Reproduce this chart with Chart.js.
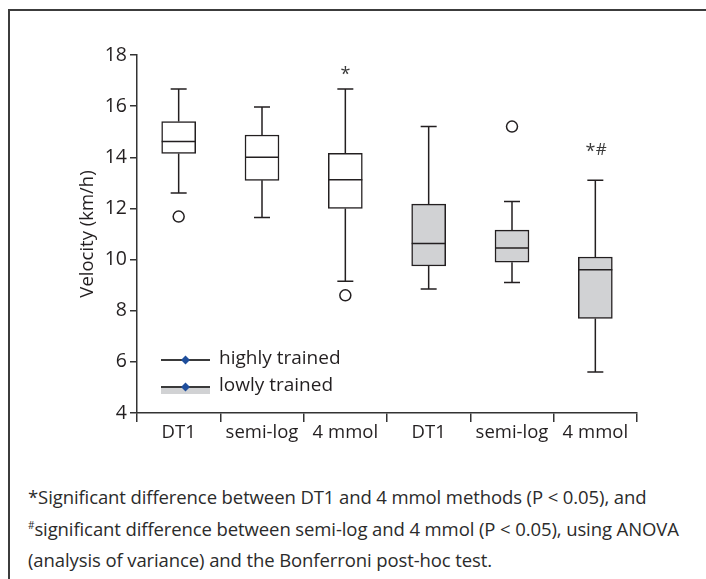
<!DOCTYPE html>
<html>
<head>
<meta charset="utf-8">
<script src="https://cdn.jsdelivr.net/npm/chart.js@4.4.1/dist/chart.umd.min.js"></script>
<style>
  html, body { margin: 0; padding: 0; background: #fff; }
  .frame {
    position: relative; width: 706px; height: 579px; overflow: hidden;
    font-family: "Open Sans", sans-serif; color: #231f20;
  }
  .frame::before {
    content: ""; position: absolute; left: 8px; top: 9px; right: 0; bottom: 0;
    border-top: 2px solid #3c3c3c; border-left: 2px solid #3c3c3c;
  }
  .chart-wrap { position: absolute; left: 0; top: 0; width: 706px; height: 460px; }
  .note {
    position: absolute; left: 28px; top: 481px; width: 678px; white-space: nowrap;
    font-size: 18.5px; line-height: 31.5px; color: #2b2b2b; letter-spacing: -0.1px;
  }
  .note sup { font-size: 10px; vertical-align: 7px; line-height: 0; }
</style>
</head>
<body>
<div class="frame">
  <div class="chart-wrap"><canvas id="boxChart"></canvas></div>
  <div class="note">
    *Significant difference between DT1 and 4 mmol methods (P &lt; 0.05), and<br>
    <sup>#</sup>significant difference between semi-log and 4 mmol (P &lt; 0.05), using ANOVA<br>
    (analysis of variance) and the Bonferroni post-hoc test.
  </div>
</div>
<script>
const methods = ['DT1', 'semi-log', '4 mmol', 'DT1', 'semi-log', '4 mmol'];
const groups = ['highly', 'highly', 'highly', 'lowly', 'lowly', 'lowly'];
const whiskerLow = [12.6, 11.65, 9.15, 8.85, 9.1, 5.6];
const quartile1 = [14.15, 13.1, 12.0, 9.75, 9.9, 7.7];
const medians = [14.62, 14.0, 13.12, 10.63, 10.45, 9.6];
const quartile3 = [15.4, 14.87, 14.15, 12.17, 11.15, 10.1];
const whiskerHigh = [16.67, 15.97, 16.67, 15.2, 12.27, 13.1];
const outliers = [11.68, null, 8.6, null, 15.2, null];
const marks = ['', '', '*', '', '', '*#'];
const yTicks = [4, 6, 8, 10, 12, 14, 16, 18];
const legendLabels = ['highly trained', 'lowly trained'];

const ink = '#231f20';
const fills = { highly: '#ffffff', lowly: '#d1d2d4' };
const fontFamily = '"Open Sans", sans-serif';

const boxExtras = {
  id: 'boxExtras',
  beforeDatasetsDraw(chart) {
    const { ctx, scales: { x, y } } = chart;
    ctx.save();
    ctx.strokeStyle = ink;
    ctx.lineWidth = 1.5;
    methods.forEach((m, i) => {
      const cx = x.getPixelForValue(i);
      ctx.beginPath();
      ctx.moveTo(cx, y.getPixelForValue(whiskerLow[i]));
      ctx.lineTo(cx, y.getPixelForValue(quartile1[i]));
      ctx.moveTo(cx, y.getPixelForValue(quartile3[i]));
      ctx.lineTo(cx, y.getPixelForValue(whiskerHigh[i]));
      [whiskerLow[i], whiskerHigh[i]].forEach((v) => {
        const py = y.getPixelForValue(v);
        ctx.moveTo(cx - 8, py);
        ctx.lineTo(cx + 8, py);
      });
      ctx.stroke();
    });
    ctx.restore();
  },
  afterDatasetsDraw(chart) {
    const { ctx, chartArea, scales: { x, y } } = chart;
    ctx.save();
    ctx.strokeStyle = ink;
    ctx.lineWidth = 1.5;
    methods.forEach((m, i) => {
      const cx = x.getPixelForValue(i);
      const py = y.getPixelForValue(medians[i]);
      ctx.beginPath();
      ctx.moveTo(cx - 17, py);
      ctx.lineTo(cx + 17, py);
      ctx.stroke();
      if (marks[i]) {
        ctx.fillStyle = '#3a3a3a';
        ctx.font = '18px ' + fontFamily;
        ctx.textAlign = 'center';
        ctx.textBaseline = 'alphabetic';
        const top = y.getPixelForValue(whiskerHigh[i]);
        if (marks[i] === '*') {
          ctx.fillText('*', cx, top - 9);
        } else {
          ctx.fillText('*', cx - 5, top - 23);
          ctx.font = '17px ' + fontFamily;
          ctx.fillText('#', cx + 6, top - 25);
        }
      }
    });

    // legend
    const lx = chartArea.left + 24;
    legendLabels.forEach((label, k) => {
      const ly = chartArea.top + 305 + k * 27;
      if (k === 1) {
        ctx.fillStyle = fills.lowly;
        ctx.fillRect(lx, ly, 49, 7);
      }
      ctx.strokeStyle = '#3a3a3a';
      ctx.lineWidth = 1.8;
      ctx.beginPath();
      ctx.moveTo(lx, ly);
      ctx.lineTo(lx + 49, ly);
      ctx.stroke();
      ctx.fillStyle = '#1f4e9c';
      ctx.beginPath();
      ctx.moveTo(lx + 24.5, ly - 4.5);
      ctx.lineTo(lx + 29, ly);
      ctx.lineTo(lx + 24.5, ly + 4.5);
      ctx.lineTo(lx + 20, ly);
      ctx.closePath();
      ctx.fill();
      ctx.fillStyle = ink;
      ctx.font = '19px ' + fontFamily;
      ctx.textAlign = 'left';
      ctx.textBaseline = 'middle';
      ctx.fillText(label, lx + 58, ly - 1);
    });
    ctx.restore();
  }
};

new Chart(document.getElementById('boxChart'), {
  type: 'bar',
  data: {
    labels: methods,
    datasets: [
      {
        label: 'box',
        data: methods.map((m, i) => [quartile1[i], quartile3[i]]),
        backgroundColor: groups.map((g) => fills[g]),
        borderColor: ink,
        borderWidth: 1.5,
        borderSkipped: false,
        barThickness: 34,
        order: 2
      },
      {
        type: 'line',
        label: 'outliers',
        data: outliers,
        showLine: false,
        pointStyle: 'circle',
        pointRadius: 5.5,
        pointBorderWidth: 1.5,
        pointBackgroundColor: '#fff',
        pointBorderColor: ink,
        order: 1
      }
    ]
  },
  options: {
    responsive: true,
    maintainAspectRatio: false,
    animation: false,
    layout: { padding: { top: 55, right: 69, left: 0, bottom: 0 } },
    plugins: { legend: { display: false }, tooltip: { enabled: false } },
    scales: {
      x: {
        offset: true,
        afterFit: (scale) => { scale.height = 47; },
        grid: { drawOnChartArea: false, drawTicks: true, tickLength: 9, color: '#333', lineWidth: 1.5, offset: true },
        border: { color: '#333', width: 1.5 },
        ticks: { color: ink, font: { size: 18.5, family: fontFamily }, padding: 0, maxRotation: 0, autoSkip: false }
      },
      y: {
        min: yTicks[0],
        max: yTicks[yTicks.length - 1],
        afterFit: (scale) => { scale.width = 137; },
        afterBuildTicks: (scale) => { scale.ticks = yTicks.map((v) => ({ value: v })); },
        grid: { drawOnChartArea: false, drawTicks: true, tickLength: 7, color: '#333', lineWidth: 1.5 },
        border: { color: '#333', width: 1.5 },
        ticks: { color: ink, font: { size: 19.5, family: fontFamily }, padding: 3 },
        title: { display: true, text: 'Velocity (km/h)', color: ink, font: { size: 18.5, family: fontFamily }, padding: { top: 77, bottom: 0 } }
      }
    }
  },
  plugins: [boxExtras]
});
</script>
</body>
</html>
